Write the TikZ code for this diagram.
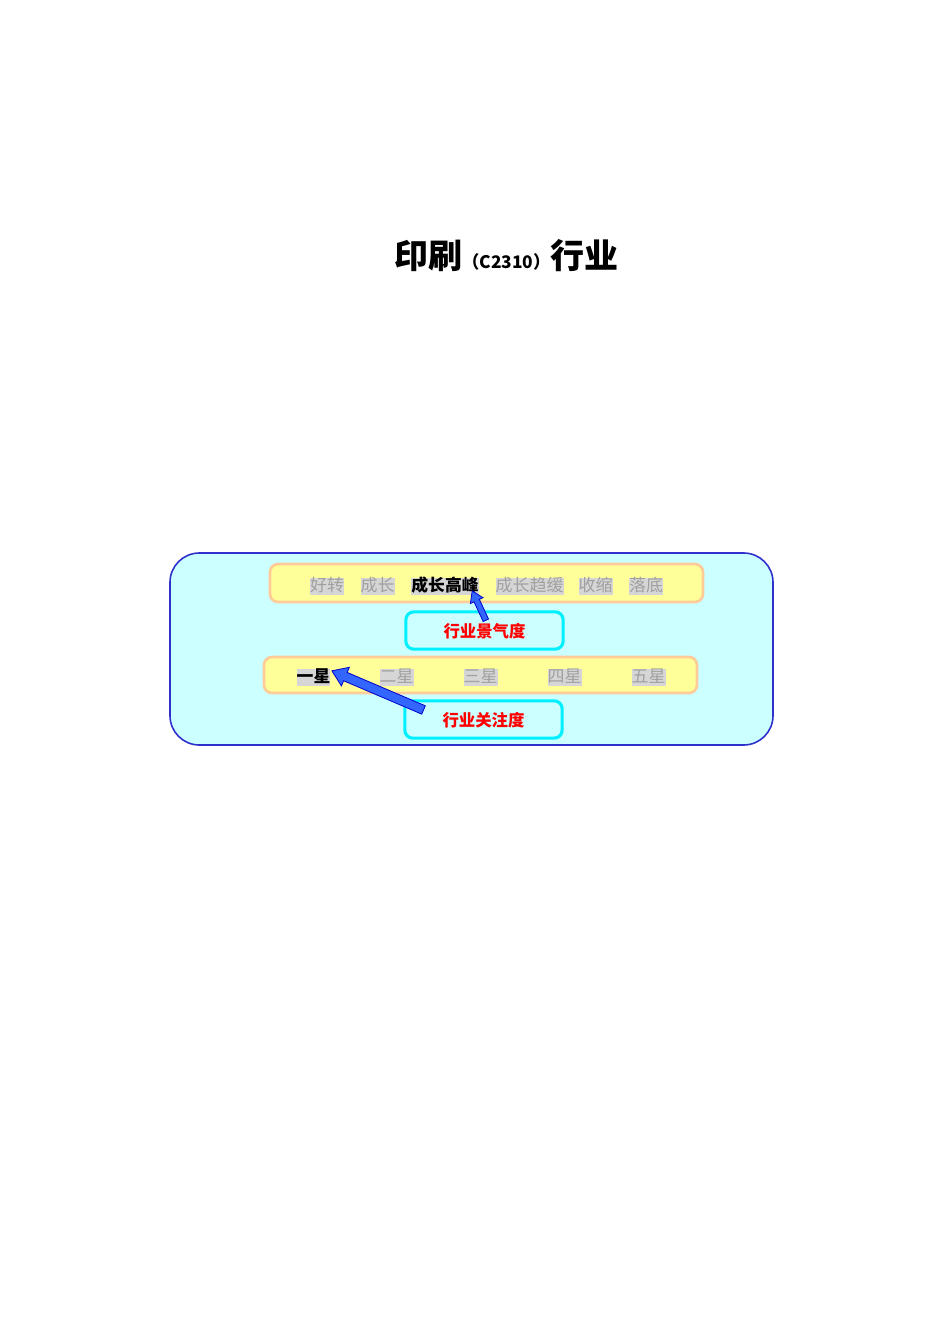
\documentclass[tikz,border=0pt]{standalone}
\usepackage{fontspec}
\usepackage{tikz}
\usetikzlibrary{calc,positioning}
\newfontfamily\hei{Noto Sans CJK SC}
\definecolor{skyfill}{HTML}{CCFFFF}
\definecolor{frameblue}{HTML}{3030CC}
\definecolor{barfill}{HTML}{FFFF99}
\definecolor{barline}{HTML}{FFCC99}
\definecolor{boxline}{HTML}{00F0FF}
\definecolor{wordgray}{HTML}{A0A0A0}
\definecolor{markgray}{HTML}{D6D6D6}
\definecolor{arrowfill}{HTML}{3366FF}
\definecolor{arrowline}{HTML}{0000CC}
\newcommand{\blockarrow}[5]{% tail, tip, shaft half width, head half width, head length
\coordinate (ah) at ($(#2)!#5!(#1)$);
\filldraw[arrowstyle] ($(#1)!#3!90:(#2)$) -- ($(ah)!#3!90:(#2)$) -- ($(ah)!#4!90:(#2)$) -- (#2)
  -- ($(ah)!#4!-90:(#2)$) -- ($(ah)!#3!-90:(#2)$) -- ($(#1)!#3!-90:(#2)$) -- cycle;}

\begin{document}
\begin{tikzpicture}[x=0.75pt,y=-0.75pt]
\tikzstyle{word}=[fill=markgray,text=wordgray,inner xsep=0pt,inner ysep=1.2pt,text height=0.86em,text depth=0.12em,font=\hei\fontsize{12.75}{14}\selectfont]
\tikzstyle{hot}=[word,text=black,font=\hei\bfseries\fontsize{12.6}{14}\selectfont]
\tikzstyle{bar}=[draw=barline,fill=barfill,line width=2pt,rounded corners=6pt]
\tikzstyle{gauge}=[draw=boxline,fill=skyfill,line width=2.3pt,rounded corners=6pt,minimum width=118pt,minimum height=28pt,text height=1em,text depth=0pt,text=red,font=\hei\bfseries\fontsize{12.3}{14}\selectfont]
\tikzstyle{arrowstyle}=[fill=arrowfill,draw=arrowline,line width=0.6pt,line join=miter]

\useasboundingbox (0,0) rectangle (950,1344);

% title
\node (title) at (506.5,256) {{\hei\bfseries\fontsize{25.5}{30}\selectfont 印刷}{\hei\bfseries\fontsize{13}{16}\selectfont （C2310）}{\hei\bfseries\fontsize{25.5}{30}\selectfont 行业}};

% frame
\draw[frameblue,line width=1.2pt,fill=skyfill,rounded corners=22pt] (170,553) rectangle (773,745);
\draw[bar] (270,564) rectangle (703,602);
\draw[bar] (264,657) rectangle (697,693);

\node [gauge] (climate) at (484.5,630.5) {行业景气度};
\node [gauge] (focus) at (483.5,719.5) {行业关注度};

% stages
\node [word] (good) at (327,586.5) {好转};
\node [word] (grow) at (377.5,586.5) {成长};
\node [hot] (peak) at (445,586.5) {成长高峰};
\node [word] (slow) at (529.5,586.5) {成长趋缓};
\node [word] (shrink) at (595.5,586.5) {收缩};
\node [word] (bottom) at (646,586.5) {落底};

% stars
\node [hot] (star1) at (313.5,677.5) {一星};
\node [word] (star2) at (396.5,677.5) {二星};
\node [word] (star3) at (480.5,677.5) {三星};
\node [word] (star4) at (564.5,677.5) {四星};
\node [word] (star5) at (648.5,677.5) {五星};

% arrows
\coordinate (climatetail) at ([xshift=1pt,yshift=-7.5pt]climate.north);
\coordinate (peaktip) at ([xshift=-5pt,yshift=3pt]peak.south east);
\blockarrow{climatetail}{peaktip}{2.2pt}{5.2pt}{8pt}
\coordinate (focustail) at ([xshift=-45pt,yshift=-8pt]focus.north);
\coordinate (startip) at ([xshift=1pt,yshift=5pt]star1.east);
\blockarrow{focustail}{startip}{3.4pt}{7.6pt}{11pt}
\end{tikzpicture}
\end{document}
